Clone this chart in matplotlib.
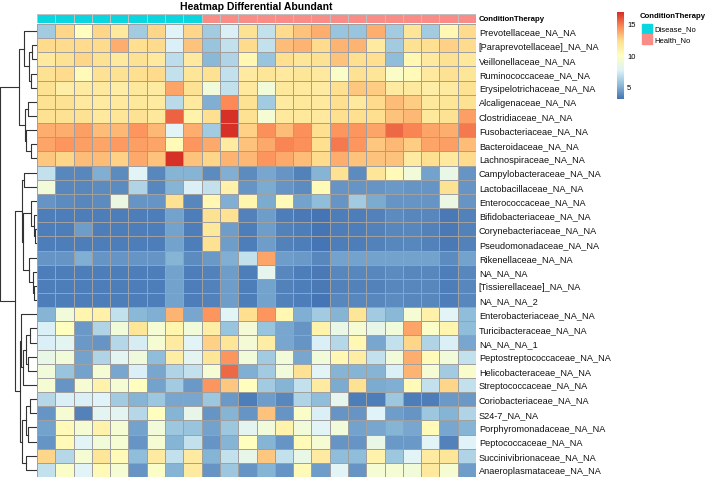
import numpy as np
import matplotlib
matplotlib.use('Agg')
from matplotlib import pyplot as plt
from matplotlib.colors import LinearSegmentedColormap, ListedColormap
from matplotlib.patches import Rectangle

plt.rcParams['font.family'] = ['Liberation Sans', 'DejaVu Sans']

# Row names (in clustered order, top to bottom)
taxa = ['Prevotellaceae_NA_NA', '[Paraprevotellaceae]_NA_NA', 'Veillonellaceae_NA_NA',
        'Ruminococcaceae_NA_NA', 'Erysipelotrichaceae_NA_NA', 'Alcaligenaceae_NA_NA',
        'Clostridiaceae_NA_NA', 'Fusobacteriaceae_NA_NA', 'Bacteroidaceae_NA_NA',
        'Lachnospiraceae_NA_NA', 'Campylobacteraceae_NA_NA', 'Lactobacillaceae_NA_NA',
        'Enterococcaceae_NA_NA', 'Bifidobacteriaceae_NA_NA', 'Corynebacteriaceae_NA_NA',
        'Pseudomonadaceae_NA_NA', 'Rikenellaceae_NA_NA', 'NA_NA_NA',
        '[Tissierellaceae]_NA_NA', 'NA_NA_NA_2', 'Enterobacteriaceae_NA_NA',
        'Turicibacteraceae_NA_NA', 'NA_NA_NA_1', 'Peptostreptococcaceae_NA_NA',
        'Helicobacteraceae_NA_NA', 'Streptococcaceae_NA_NA', 'Coriobacteriaceae_NA_NA',
        'S24-7_NA_NA', 'Porphyromonadaceae_NA_NA', 'Peptococcaceae_NA_NA',
        'Succinivibrionaceae_NA_NA', 'Anaeroplasmataceae_NA_NA']

# Column annotation
condition = ['Disease_No'] * 9 + ['Health_No'] * 15

# Abundance values (rows = taxa, columns = samples)
abundance = [
    [5.8, 12.5, 10.0, 12.5, 11.5, 5.8, 12.5, 7.6, 12.5, 5.8, 7.5, 12.0, 6.8, 12.3, 13.0, 13.6, 5.6, 5.6, 13.6, 5.8, 11.7, 5.8, 10.5, 12.3],
    [12.3, 12.3, 12.3, 12.3, 13.5, 12.2, 12.3, 7.5, 13.0, 5.5, 6.8, 12.3, 6.8, 13.1, 13.4, 12.3, 13.4, 13.4, 11.4, 5.8, 12.0, 12.2, 12.6, 12.3],
    [11.5, 12.0, 12.4, 12.0, 11.5, 12.0, 11.5, 6.6, 11.5, 5.2, 6.2, 10.5, 5.5, 12.2, 11.7, 12.0, 13.0, 12.2, 12.2, 5.3, 10.5, 11.5, 12.0, 11.6],
    [12.0, 12.3, 10.3, 12.0, 12.0, 12.2, 12.3, 6.8, 11.7, 12.0, 6.8, 11.3, 11.7, 11.5, 11.7, 11.5, 9.5, 12.0, 11.8, 9.6, 10.2, 11.5, 12.0, 11.8],
    [12.0, 11.2, 11.3, 11.5, 11.2, 11.6, 11.4, 13.8, 12.0, 8.8, 6.8, 11.5, 8.9, 11.6, 11.5, 11.3, 12.2, 12.8, 12.7, 11.3, 11.5, 11.2, 11.3, 12.0],
    [12.0, 12.0, 11.5, 11.3, 11.5, 11.6, 11.3, 6.5, 11.5, 4.9, 14.5, 12.0, 5.8, 11.3, 11.6, 11.5, 12.2, 11.5, 12.3, 13.2, 12.7, 11.6, 11.7, 12.0],
    [12.0, 12.0, 12.0, 11.5, 11.7, 12.0, 11.6, 15.5, 10.8, 12.2, 16.8, 12.0, 9.2, 11.5, 11.6, 11.5, 12.2, 12.2, 12.2, 13.0, 13.3, 11.6, 12.0, 14.0],
    [13.5, 13.5, 14.0, 13.2, 13.3, 14.3, 13.3, 7.8, 13.6, 5.8, 16.7, 12.6, 14.4, 13.2, 14.4, 12.2, 14.3, 14.3, 13.8, 15.3, 14.6, 13.8, 13.5, 15.0],
    [13.8, 14.2, 14.0, 13.8, 14.1, 14.0, 13.8, 10.2, 14.3, 13.7, 11.4, 13.0, 13.7, 14.6, 14.4, 12.2, 15.0, 14.3, 12.9, 13.3, 12.7, 13.8, 14.0, 13.1],
    [12.8, 12.5, 13.1, 13.1, 12.6, 13.7, 13.0, 16.8, 13.0, 12.5, 13.4, 13.3, 14.3, 13.7, 13.1, 12.3, 13.6, 13.0, 13.0, 13.0, 11.4, 12.2, 11.5, 12.3],
    [6.8, 3.6, 3.6, 4.9, 3.8, 7.8, 3.6, 5.0, 5.0, 3.8, 4.8, 3.8, 4.6, 4.0, 3.5, 5.0, 12.0, 3.8, 11.8, 10.2, 8.9, 4.5, 8.3, 4.0],
    [8.8, 3.6, 3.6, 3.8, 3.8, 6.2, 3.6, 5.0, 7.5, 6.8, 11.0, 4.0, 4.7, 4.0, 3.7, 10.3, 4.0, 4.0, 4.0, 4.2, 4.0, 4.0, 12.0, 4.1],
    [4.0, 3.8, 3.6, 3.8, 8.5, 4.0, 4.0, 12.0, 3.6, 10.5, 4.9, 10.7, 4.7, 10.3, 4.5, 5.3, 4.0, 5.8, 4.7, 4.1, 4.0, 4.0, 8.4, 4.1],
    [3.4, 3.4, 3.4, 3.4, 3.4, 3.4, 3.4, 4.4, 3.4, 12.0, 12.0, 3.5, 4.3, 3.4, 3.2, 3.0, 3.4, 3.4, 3.5, 3.7, 3.6, 3.6, 3.2, 3.5],
    [3.4, 3.3, 4.3, 3.4, 3.4, 3.4, 3.4, 4.4, 3.4, 11.6, 4.3, 3.4, 4.3, 3.5, 3.3, 3.0, 3.4, 3.4, 3.5, 3.6, 3.6, 3.5, 3.2, 3.5],
    [3.4, 3.4, 3.4, 3.4, 3.4, 3.4, 3.4, 4.4, 3.4, 12.0, 4.3, 3.4, 4.3, 3.5, 3.3, 3.0, 3.4, 3.4, 3.5, 3.6, 3.6, 3.5, 3.2, 3.5],
    [4.0, 4.0, 4.8, 4.0, 4.1, 4.1, 4.0, 5.0, 3.8, 4.2, 4.8, 6.8, 13.8, 4.3, 4.2, 3.6, 4.4, 4.4, 4.4, 4.5, 4.4, 4.4, 3.7, 4.4],
    [3.4, 3.4, 3.4, 3.4, 3.4, 3.4, 3.4, 4.4, 3.4, 3.5, 4.3, 3.4, 8.0, 3.6, 3.4, 3.2, 3.6, 3.6, 3.6, 3.7, 3.6, 3.6, 3.3, 3.6],
    [3.4, 3.4, 3.4, 3.4, 3.4, 3.4, 3.4, 4.4, 3.4, 3.5, 4.3, 3.4, 4.4, 3.5, 3.4, 3.2, 3.5, 3.5, 3.5, 3.6, 3.6, 3.6, 3.3, 3.6],
    [3.4, 3.4, 3.4, 3.4, 3.4, 3.4, 3.4, 4.4, 3.4, 3.5, 4.3, 3.4, 4.5, 3.5, 3.4, 3.1, 3.6, 3.6, 3.6, 3.7, 3.6, 3.6, 3.3, 3.6],
    [5.0, 8.8, 10.6, 11.0, 6.8, 5.1, 4.8, 13.4, 4.6, 14.3, 7.7, 12.2, 14.3, 10.5, 4.8, 5.8, 5.0, 11.8, 5.8, 5.1, 9.2, 10.9, 7.7, 5.3],
    [7.5, 10.0, 4.2, 6.2, 8.8, 11.8, 9.2, 10.6, 8.9, 11.2, 5.5, 9.0, 5.5, 4.6, 4.1, 10.8, 8.3, 9.2, 8.2, 8.8, 13.8, 9.5, 10.6, 5.3],
    [7.5, 7.9, 4.2, 4.0, 6.4, 7.3, 9.2, 11.4, 7.7, 12.6, 11.8, 9.0, 11.2, 4.6, 4.1, 7.5, 6.4, 10.4, 4.6, 6.8, 12.4, 6.2, 7.5, 4.6],
    [8.3, 8.8, 4.4, 6.2, 7.9, 8.7, 5.3, 11.2, 7.9, 11.8, 14.3, 8.8, 5.8, 8.8, 4.6, 8.8, 10.5, 11.2, 6.8, 8.8, 13.6, 10.3, 8.8, 6.8],
    [8.8, 5.5, 4.4, 9.2, 4.6, 7.5, 4.6, 6.2, 6.8, 9.2, 15.3, 4.8, 5.8, 8.8, 12.0, 7.7, 5.0, 5.0, 5.0, 7.5, 13.4, 9.2, 5.8, 9.4],
    [9.2, 4.1, 9.2, 10.8, 9.2, 10.0, 4.4, 5.8, 4.2, 14.3, 12.8, 10.0, 5.8, 5.0, 6.8, 11.4, 4.7, 12.0, 4.7, 4.8, 10.2, 6.8, 12.4, 6.8],
    [6.4, 7.5, 7.5, 7.6, 5.8, 5.0, 5.7, 4.6, 4.6, 5.7, 4.2, 3.4, 4.3, 3.6, 6.2, 5.3, 8.0, 3.4, 3.4, 5.7, 3.4, 3.4, 4.2, 4.2],
    [4.0, 9.2, 3.5, 7.9, 7.9, 6.4, 10.0, 5.0, 8.2, 4.0, 5.0, 4.0, 13.0, 4.0, 9.5, 7.5, 4.0, 4.0, 7.6, 4.3, 4.0, 5.7, 5.0, 6.2],
    [4.4, 10.3, 9.2, 10.8, 9.2, 4.4, 8.8, 5.7, 5.5, 4.4, 5.7, 7.9, 8.8, 10.8, 8.8, 7.7, 8.8, 4.4, 4.6, 5.0, 4.6, 10.2, 4.6, 5.0],
    [4.0, 10.2, 7.7, 8.8, 9.2, 4.0, 9.2, 5.0, 6.8, 4.0, 5.0, 10.0, 5.0, 4.0, 10.2, 9.2, 4.0, 4.0, 8.3, 4.2, 4.2, 7.7, 3.5, 7.6],
    [12.4, 6.4, 9.2, 11.8, 10.2, 5.3, 11.4, 6.8, 11.4, 5.0, 6.8, 8.2, 12.8, 6.8, 8.3, 11.4, 5.3, 5.3, 10.8, 5.7, 7.7, 11.4, 11.8, 6.2],
    [6.8, 9.5, 7.7, 10.2, 9.2, 4.0, 9.5, 5.0, 11.4, 4.0, 5.7, 4.0, 5.0, 4.0, 10.2, 4.3, 7.7, 4.0, 9.2, 9.2, 8.8, 11.5, 9.2, 4.3],
]

# Row dendrogram: (left, right, height); ids >= 32 refer to earlier merges
merges = [
    (1, 2, 3.7), (3, 4, 4.7), (32, 33, 7.0), (0, 34, 12.0),
    (5, 6, 7.7), (8, 9, 5.3), (7, 37, 9.7), (36, 38, 11.3), (35, 39, 17.7),
    (10, 11, 12.0), (14, 15, 1.0), (13, 42, 2.3), (12, 43, 5.3),
    (18, 19, 1.7), (17, 45, 3.0), (16, 46, 7.0), (44, 47, 13.0), (41, 48, 14.7),
    (21, 22, 6.3), (23, 24, 7.7), (50, 51, 10.3), (52, 25, 13.0), (20, 53, 15.0),
    (26, 27, 6.3), (28, 29, 7.7), (55, 56, 10.3), (30, 31, 10.3), (57, 58, 14.3),
    (54, 59, 16.3), (49, 60, 21.0), (40, 61, 36.0),
]

cond_colors = {'Disease_No': '#0AD6DF', 'Health_No': '#F98C86'}
palette = ['#4575B4', '#91BFDB', '#E0F3F8', '#FFFFBF', '#FEE090', '#FC8D59', '#D73027']
cmap = LinearSegmentedColormap.from_list('rdylbu_r', palette, N=100)

W, H = 709, 481


def box(x0, y0, x1, y1):
    # pixel box -> figure fraction
    return [x0 / W, 1 - y1 / H, (x1 - x0) / W, (y1 - y0) / H]


fig = plt.figure(figsize=(W / 100, H / 100), dpi=100)

mat = np.array(abundance)
nrow, ncol = mat.shape
vmin, vmax = mat.min(), mat.max()

# Heatmap
ax = fig.add_axes(box(37, 25, 476, 478))
ax.pcolormesh(mat, cmap=cmap, vmin=vmin, vmax=vmax, edgecolors='#a0a0a0', linewidth=0.5)
ax.set_xlim(0, ncol)
ax.set_ylim(nrow, 0)
ax.set_xticks([])
ax.yaxis.tick_right()
ax.set_yticks(np.arange(nrow) + 0.5)
ax.set_yticklabels(taxa, fontsize=6.6, color='#111111')
ax.tick_params(axis='y', length=0, pad=2)
for s in ax.spines.values():
    s.set_visible(False)

# Annotation bar
aax = fig.add_axes(box(37, 15, 476, 23.5))
codes = np.array([[list(cond_colors).index(c) for c in condition]])
aax.pcolormesh(codes, cmap=ListedColormap(list(cond_colors.values())), vmin=-0.5, vmax=1.5,
               edgecolors='#c0c0c0', linewidth=0.5)
aax.set_xlim(0, ncol)
aax.set_xticks([])
aax.set_yticks([])
for s in aax.spines.values():
    s.set_visible(False)
fig.text(479 / W, 1 - 19.3 / H, 'ConditionTherapy', fontsize=5.6, fontweight='bold',
         ha='left', va='center')

# Row dendrogram
dax = fig.add_axes(box(0, 25, 36, 478))
pos = {i: i + 0.5 for i in range(nrow)}
hgt = {i: 0.0 for i in range(nrow)}
for k, (a, b, h) in enumerate(merges):
    node = nrow + k
    dax.plot([hgt[a], h, h, hgt[b]], [pos[a], pos[a], pos[b], pos[b]],
             color='#333333', lw=0.8, clip_on=False)
    pos[node] = (pos[a] + pos[b]) / 2
    hgt[node] = h
dax.set_xlim(36.5, 0)
dax.set_ylim(nrow, 0)
dax.axis('off')

# Title
fig.text(256.5 / W, 1 - 6.5 / H, 'Heatmap Differential Abundant', fontsize=7.5,
         fontweight='bold', ha='center', va='center')

# Colour legend
cax = fig.add_axes(box(617, 13.3, 623.5, 100))
grad = np.linspace(vmin, vmax, 100).reshape(-1, 1)
cax.imshow(grad, cmap=cmap, aspect='auto', origin='lower', extent=[0, 1, vmin, vmax])
cax.set_xticks([])
cax.yaxis.tick_right()
cax.set_yticks([5, 10, 15])
cax.set_yticklabels(['5', '10', '15'], fontsize=5.5)
cax.tick_params(axis='y', length=0, pad=2.5)
for s in cax.spines.values():
    s.set_visible(False)

# Annotation legend
fig.text(640 / W, 1 - 17 / H, 'ConditionTherapy', fontsize=5.6, fontweight='bold',
         ha='left', va='center')
for i, (lab, col) in enumerate(cond_colors.items()):
    fig.add_artist(Rectangle((641.7 / W, 1 - (35 + 10 * i) / H), 10 / W, 10 / H,
                             transform=fig.transFigure, color=col))
    fig.text(654 / W, 1 - (30 + 10.5 * i) / H, lab, fontsize=5.5, ha='left', va='center')

fig.savefig('out.png', dpi=100)
